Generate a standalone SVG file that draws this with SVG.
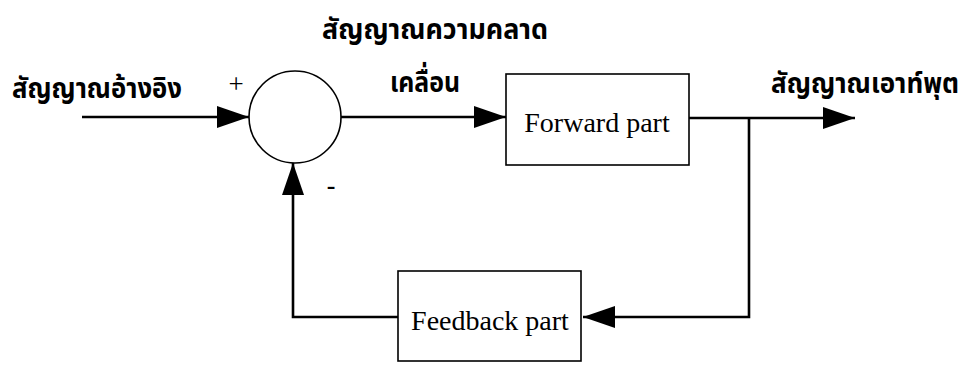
<svg xmlns="http://www.w3.org/2000/svg" width="967" height="365" viewBox="0 0 967 365">
<defs>
<marker id="arr" markerUnits="userSpaceOnUse" markerWidth="32" markerHeight="22" refX="32" refY="11" orient="auto">
<path d="M0,0 L32,11 L0,22 Z" fill="#000"/>
</marker>
</defs>
<style>
.box{fill:#fff;stroke:#000;stroke-width:1.6}
.ln{fill:none;stroke:#000;stroke-width:2.6}
.th{font-family:"Noto Sans Thai","Noto Sans",sans-serif;font-size:29px;font-weight:bold;fill:#000}
.en{font-family:"Liberation Serif","Times New Roman",serif;font-size:28px;fill:#000}
.sg{font-family:"Liberation Serif",serif;fill:#000}
</style>
<rect width="967" height="365" fill="#fff"/>
<g id="connectors">
<path class="ln" d="M82,117 H249" marker-end="url(#arr)"/>
<path class="ln" d="M341,117 H506" marker-end="url(#arr)"/>
<path class="ln" d="M689,118 H855" marker-end="url(#arr)"/>
<path class="ln" d="M749,118 V317 H583" marker-end="url(#arr)"/>
<path class="ln" d="M398,317 H293 V163" marker-end="url(#arr)"/>
</g>
<g id="sum">
<circle cx="295" cy="117" r="46" class="box"/>
<text class="sg" x="236" y="93" font-size="27" text-anchor="middle">+</text>
<text class="sg" x="331" y="194" font-size="26" font-weight="bold" text-anchor="middle">-</text>
</g>
<g id="forward">
<rect class="box" x="506" y="74" width="183" height="91"/>
<text class="en" x="597" y="132" text-anchor="middle">Forward part</text>
</g>
<g id="feedback">
<rect class="box" x="398" y="271" width="183" height="90"/>
<text class="en" x="490" y="330" text-anchor="middle">Feedback part</text>
</g>
<g id="labels">
<text class="th" x="12" y="98" textLength="170" lengthAdjust="spacingAndGlyphs">สัญญาณอ้างอิง</text>
<text class="th" x="322" y="39" textLength="226" lengthAdjust="spacingAndGlyphs">สัญญาณความคลาด</text>
<text class="th" x="390" y="92" textLength="70" lengthAdjust="spacingAndGlyphs">เคลื่อน</text>
<text class="th" x="771" y="93" textLength="188" lengthAdjust="spacingAndGlyphs">สัญญาณเอาท์พุต</text>
</g>
</svg>
